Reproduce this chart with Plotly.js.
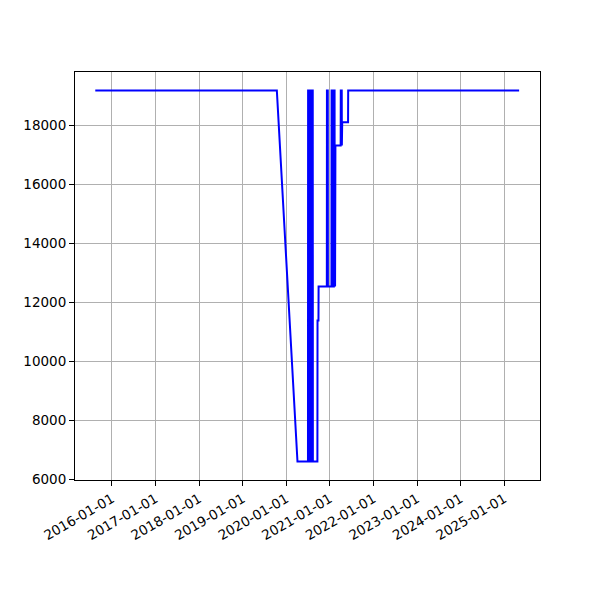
<!DOCTYPE html>
<html>
<head>
<meta charset="utf-8">
<script src="https://cdn.plot.ly/plotly-3.0.1.min.js"></script>
<style>html,body{margin:0;padding:0;background:#fff;}#chart{width:600px;height:600px;}</style>
</head>
<body>
<div id="chart"></div>
<script>
const dates = [
  '2015-08-14','2019-10-14','2020-04-04','2020-07-01',
  '2020-07-02','2020-07-08','2020-07-09','2020-07-13',
  '2020-07-14','2020-07-19','2020-07-20','2020-07-25',
  '2020-07-26','2020-07-31','2020-08-01','2020-08-05',
  '2020-08-06','2020-08-10','2020-08-11','2020-09-18',
  '2020-09-19','2020-09-27','2020-09-28','2020-12-06',
  '2020-12-07','2020-12-14','2020-12-15','2021-01-14',
  '2021-01-15','2021-01-26','2021-01-27','2021-02-03',
  '2021-02-04','2021-02-09','2021-02-10','2021-02-13',
  '2021-02-16','2021-04-01','2021-04-02','2021-04-10',
  '2021-04-11','2021-04-14','2021-06-02','2021-06-03',
  '2025-05-06'
];
const values = [
  19180,19180,6610,6610,
  19180,19180,6610,6610,
  19180,19180,6610,6610,
  19180,19180,6610,6610,
  19180,19180,6610,6610,
  11390,11390,12540,12540,
  19180,19180,12540,12540,
  19180,19180,12540,12540,
  19180,19180,13200,12540,
  17320,17320,19180,19180,
  17320,18110,18110,19180,
  19180
];
const xRange = ['2015-02-25','2025-10-28'];
const yRange = [5981, 19809];

const font = {family: 'DejaVu Sans', size: 13.5, color: '#000'};
Plotly.newPlot('chart', [{
  x: dates, y: values, type: 'scatter', mode: 'lines',
  line: {color: '#0000ff', width: 2}
}], {
  width: 600, height: 600,
  margin: {l: 75, r: 60, t: 72, b: 120},
  paper_bgcolor: '#fff', plot_bgcolor: '#fff',
  showlegend: false,
  font: font,
  xaxis: {
    type: 'date', range: xRange, tick0: '2016-01-01', dtick: 'M12',
    tickformat: '%Y-%m-%d', tickangle: -30,
    showgrid: true, gridcolor: '#b0b0b0', gridwidth: 1,
    showline: true, linecolor: '#000', linewidth: 1, mirror: true,
    ticks: 'outside', ticklen: 5, tickcolor: '#000', tickwidth: 1,
    zeroline: false, tickfont: font
  },
  yaxis: {
    range: yRange, tick0: 6000, dtick: 2000, tickformat: 'd',
    showgrid: true, gridcolor: '#b0b0b0', gridwidth: 1,
    showline: true, linecolor: '#000', linewidth: 1, mirror: true,
    ticks: 'outside', ticklen: 5, tickcolor: '#000', tickwidth: 1,
    zeroline: false, tickfont: font
  }
}, {staticPlot: true});
</script>
</body>
</html>
